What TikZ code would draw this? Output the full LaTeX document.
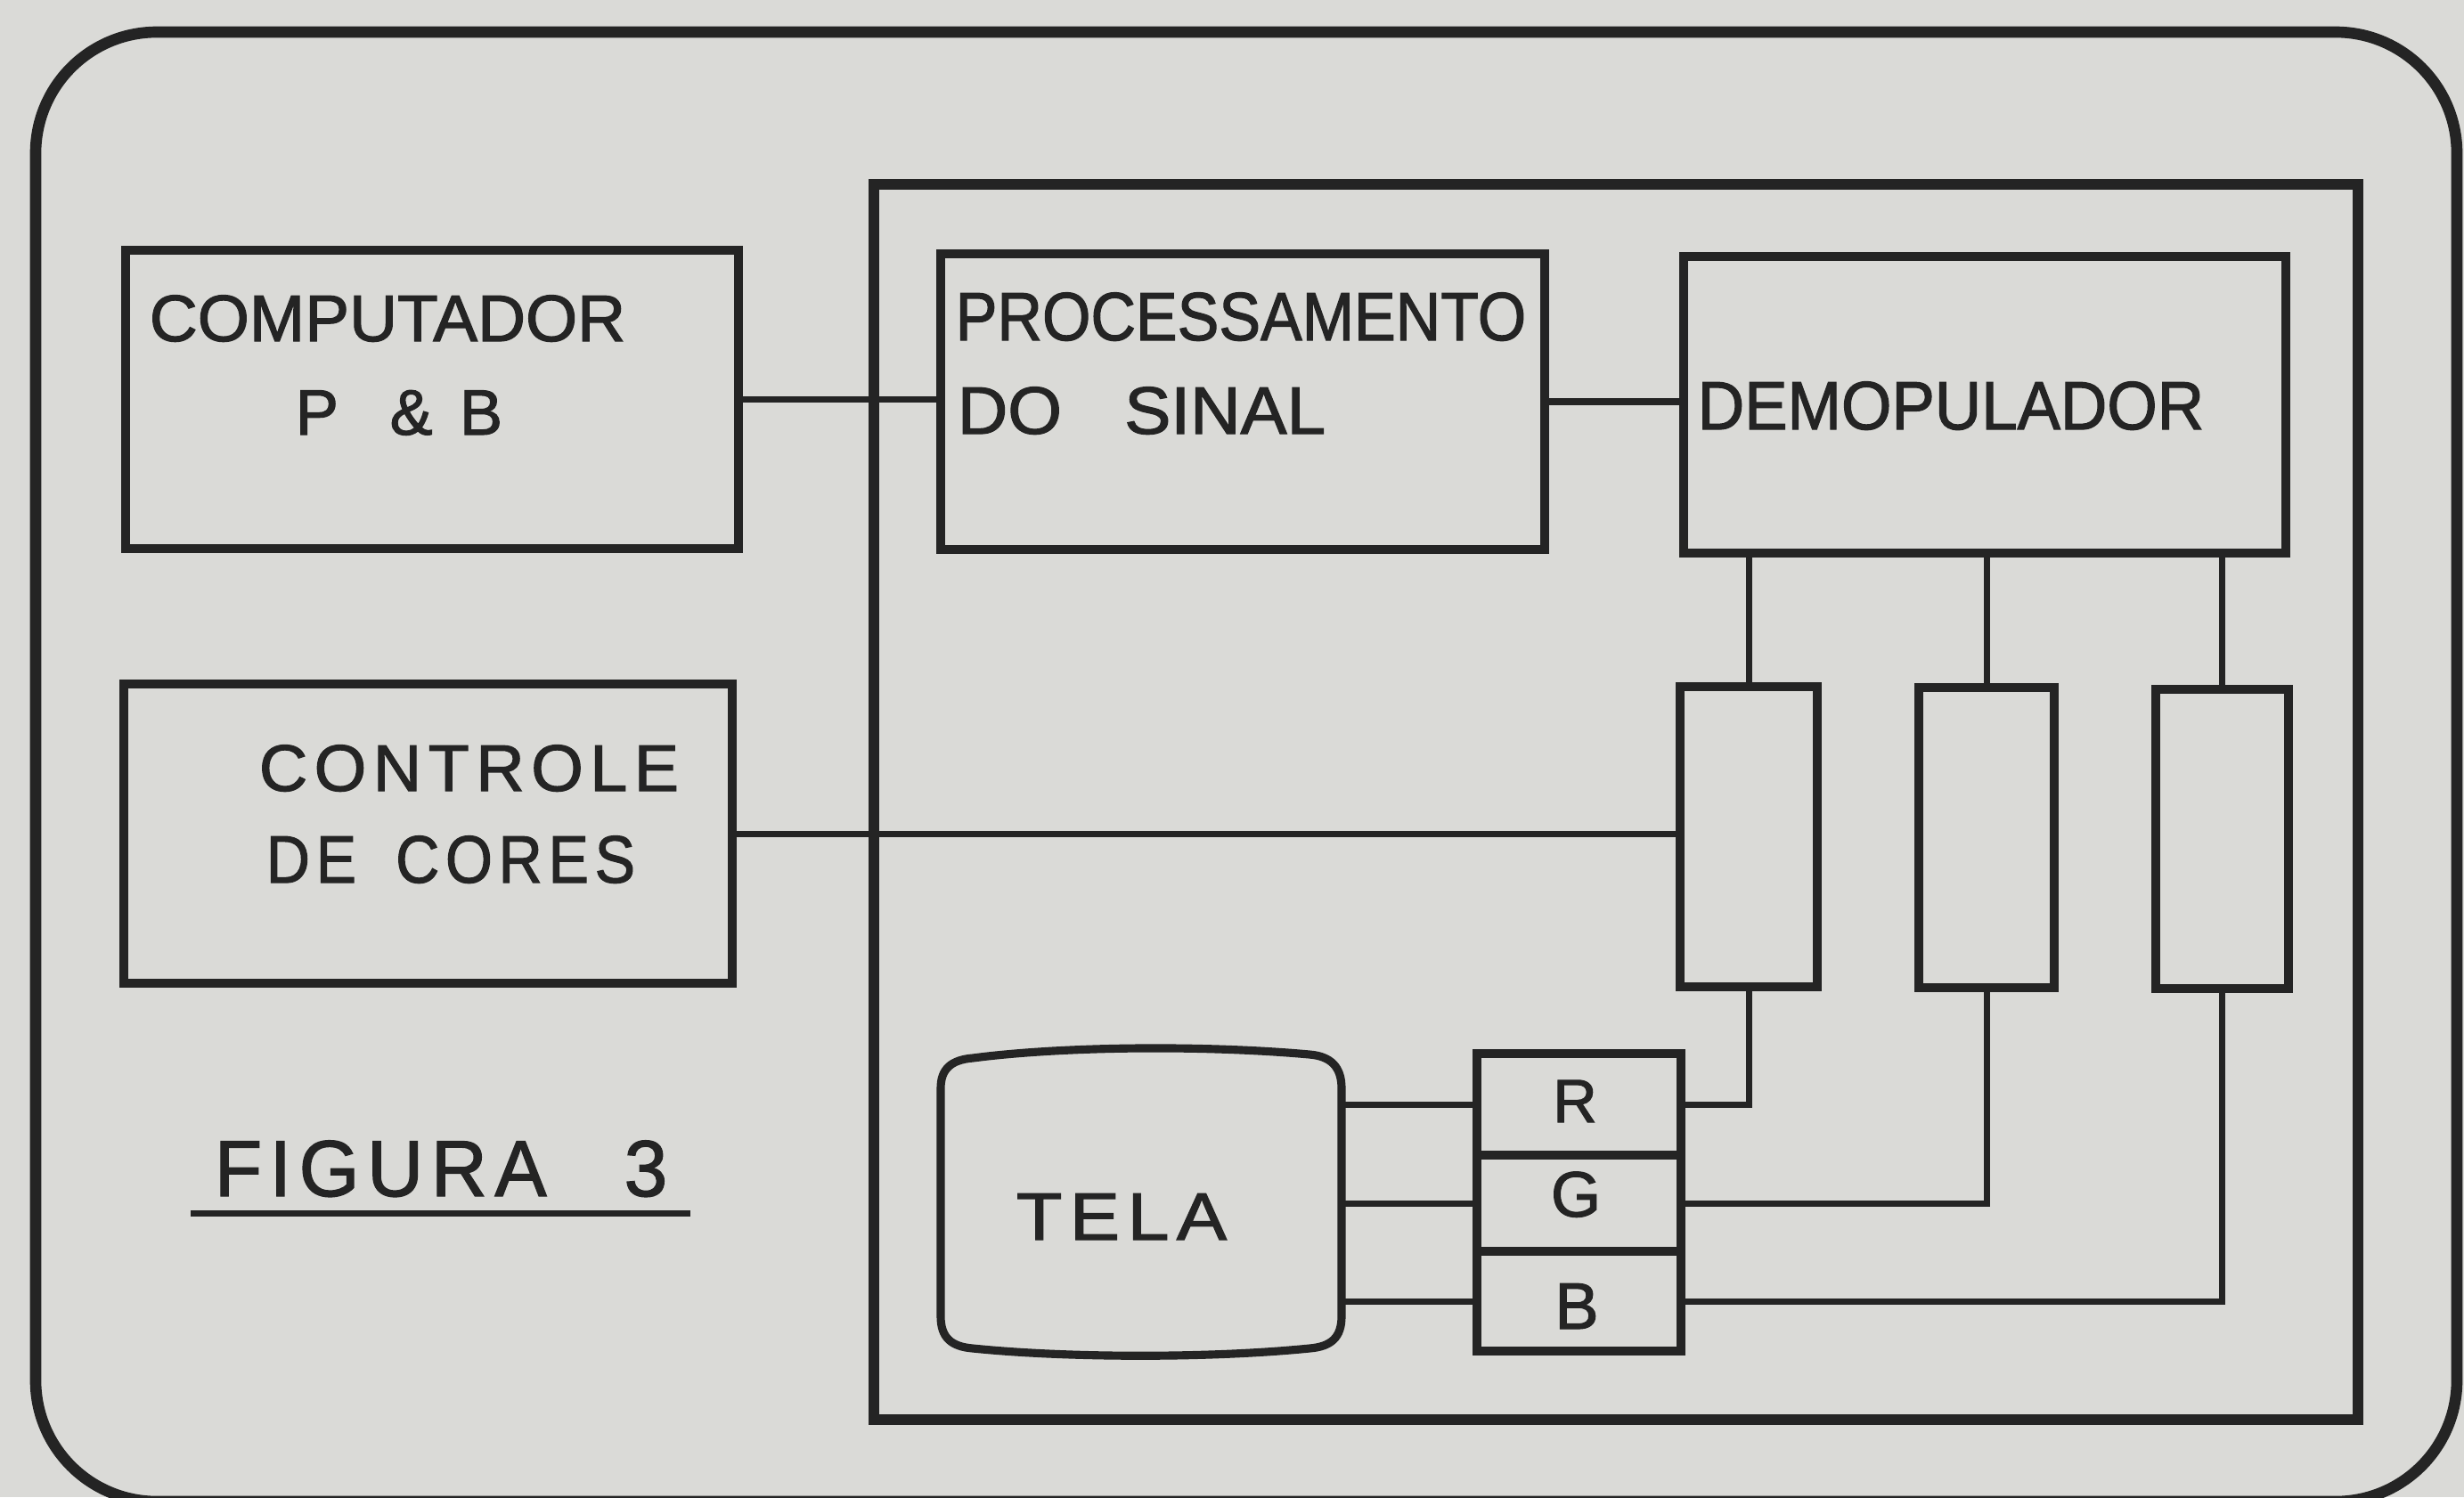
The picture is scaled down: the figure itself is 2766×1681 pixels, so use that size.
\documentclass[tikz,border=0pt]{standalone}
\usepackage{graphicx}
\usepackage{fontspec}
\setmainfont{Liberation Sans}[FakeBold=1.6]
\newfontfamily\spacedfont{Liberation Sans}[LetterSpace=10,FakeBold=1.6]
\definecolor{paper}{RGB}{218,218,215}
\definecolor{ink}{RGB}{36,36,36}
\newcommand\fitlbl[3]{\resizebox{#1}{\height}{\fontsize{#2}{#2}\selectfont #3}}
\newcommand\fitsp[3]{\resizebox{#1}{\height}{\fontsize{#2}{#2}\spacedfont #3}}
\begin{document}
\begin{tikzpicture}[x=0.01cm,y=-0.01cm,
  blk/.style={draw=ink, line width=2.7pt, inner sep=0pt},
  txt/.style={inner sep=0pt, text=ink, anchor=base},
  conn/.style={draw=ink, line width=2pt},
  frame/.style={draw=ink, line width=3.6pt}]
\useasboundingbox (0,0) rectangle (2766,1681);
\fill[paper] (0,0) rectangle (2766,1681);
% frames
\draw[frame, rounded corners=1.36cm] (40,36) rectangle (2758,1686);
\draw[frame, line width=3.4pt] (981,207) rectangle (2647,1594);
% blocks
\node[blk, minimum width=6.88cm, minimum height=3.35cm] (comp) at (485,448.5) {};
\node[blk, minimum width=6.83cm, minimum height=3.36cm] (ctrl) at (480.5,936) {};
\node[blk, minimum width=6.78cm, minimum height=3.32cm] (proc) at (1395,451) {};
\node[blk, minimum width=6.76cm, minimum height=3.33cm] (demo) at (2228,454.5) {};
\node[blk, minimum width=1.54cm, minimum height=3.37cm] (r1) at (1963,939.5) {};
\node[blk, minimum width=1.52cm, minimum height=3.37cm] (r2) at (2230,940.5) {};
\node[blk, minimum width=1.49cm, minimum height=3.36cm] (r3) at (2494.5,942) {};
\node[blk, minimum width=2.29cm, minimum height=1.14cm] (rr) at (1772.5,1240) {};
\node[blk, minimum width=2.29cm, minimum height=1.08cm] (gg) at (1772.5,1351) {};
\node[blk, minimum width=2.29cm, minimum height=1.12cm] (bb) at (1772.5,1461) {};
% screen (TELA)
\draw[ink, line width=2.6pt] (1056,1222) -- (1056,1478)
  .. controls (1056,1502) and (1068,1512) .. (1092,1514)
  .. controls (1200,1525) and (1360,1525) .. (1470,1514)
  .. controls (1494,1512) and (1506,1502) .. (1506,1478)
  -- (1506,1222)
  .. controls (1506,1198) and (1494,1186) .. (1470,1184)
  .. controls (1360,1174) and (1200,1174) .. (1092,1188)
  .. controls (1068,1190) and (1056,1200) .. cycle;
\coordinate (telaE) at (1506,1350);
% labels
\node[txt] (t1) at (435,383) {\fitlbl{5.34cm}{21pt}{COMPUTADOR}};
\node[txt] (t2) at (448,488) {\fontsize{20.5pt}{20.5pt}\selectfont P\hspace{0.8em}\&\hspace{0.42em}B};
\node[txt] (t3) at (1393,382) {\fitlbl{6.40cm}{21.8pt}{PROCESSAMENTO}};
\node[txt] (t4) at (1281.5,487) {\fitlbl{4.13cm}{21.4pt}{DO\hspace{0.9em}SINAL}};
\node[txt] (t5) at (2190,482) {\fitlbl{5.68cm}{21.8pt}{DEMOPULADOR}};
\node[txt] (t6) at (526.5,888) {\fitsp{4.71cm}{21pt}{CONTROLE}};
\node[txt] (t7) at (506,991) {\fitsp{4.14cm}{21.4pt}{DE\hspace{0.65em}CORES}};
\node[txt] (t8) at (495,1343) {\fitsp{5.08cm}{25.4pt}{FIGURA\hspace{1.0em}3}};
\node[txt] (t9) at (1259,1392) {\fitsp{2.36cm}{21.4pt}{TELA}};
\node[txt, font=\fontsize{19.5pt}{19.5pt}\selectfont] (lr) at (1768,1260) {R};
\node[txt, font=\fontsize{20.5pt}{20.5pt}\selectfont] (lg) at (1769,1366) {G};
\node[txt, font=\fontsize{21pt}{21pt}\selectfont] (lb) at (1770,1492) {B};
% underline
\coordinate (u1) at (214,1362);
\coordinate (u2) at (775,1362);
\draw[conn] (u1) -- (u2);
% connectors
\draw[conn] (comp.east) -- (comp.east -| proc.west);
\draw[conn] (proc.east) -- (proc.east -| demo.west);
\draw[conn] (ctrl.east) -- (ctrl.east -| r1.west);
\draw[conn] (demo.south -| r1.north) -- (r1.north);
\draw[conn] (demo.south -| r2.north) -- (r2.north);
\draw[conn] (demo.south -| r3.north) -- (r3.north);
\draw[conn] (telaE |- rr.west) -- (rr.west);
\draw[conn] (telaE |- gg.west) -- (gg.west);
\draw[conn] (telaE |- bb.west) -- (bb.west);
\draw[conn] (rr.east) -| (r1.south);
\draw[conn] (gg.east) -| (r2.south);
\draw[conn] (bb.east) -| (r3.south);
\end{tikzpicture}
\end{document}
